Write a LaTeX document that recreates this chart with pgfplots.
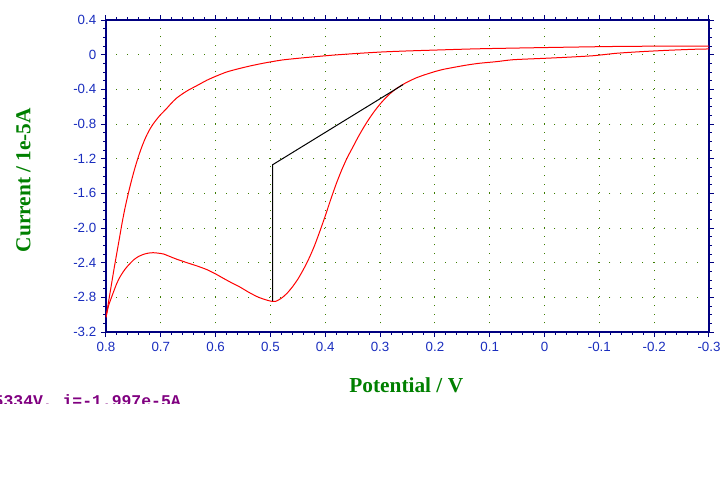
\documentclass[border=0pt]{standalone}
\usepackage{fontspec}
\setmainfont{Liberation Serif}
\newfontfamily\ticksf{Liberation Sans}
\newfontfamily\monob{Liberation Mono}
\usepackage{pgfplots}
\pgfplotsset{compat=1.18}

\definecolor{axisnavy}{RGB}{0,0,128}
\definecolor{ticklbl}{RGB}{25,45,190}
\definecolor{gridgreen}{RGB}{60,125,0}
\definecolor{lblgreen}{RGB}{0,128,0}
\definecolor{readout}{RGB}{128,0,128}

\begin{document}
\begin{tikzpicture}
% page frame, in reference pixels
\begin{scope}[x=0.75pt, y=-0.75pt, shift={(-79.5pt,249pt)}]
  \path[use as bounding box] (0,0) rectangle (727,501);
\end{scope}

\begin{axis}[
    at={(0,0)}, anchor=south west,
    scale only axis,
    width=452.25pt, height=234pt,
    x dir=reverse,
    xmin=-0.3, xmax=0.8, ymin=-3.2, ymax=0.4,
    xtick={-0.3,-0.2,-0.1,0,0.1,0.2,0.3,0.4,0.5,0.6,0.7,0.8},
    xticklabels={-0.3,-0.2,-0.1,0,0.1,0.2,0.3,0.4,0.5,0.6,0.7,0.8},
    ytick={-3.2,-2.8,-2.4,-2.0,-1.6,-1.2,-0.8,-0.4,0,0.4},
    yticklabels={-3.2,-2.8,-2.4,-2.0,-1.6,-1.2,-0.8,-0.4,0,0.4},
    minor x tick num=4, minor y tick num=3,
    tick align=outside,
    xtick pos=both, ytick pos=both,
    major tick length=3.75pt, minor tick length=2pt,
    axis line style={axisnavy, line width=1pt},
    tick style={axisnavy, line width=0.75pt},
    ticklabel style={font=\ticksf\fontsize{10}{12}\selectfont, text=ticklbl},
    xmajorgrids, ymajorgrids,
    x grid style={gridgreen, line width=0.75pt, dash pattern=on 0.75pt off 5.75pt},
    y grid style={gridgreen, line width=0.75pt, dash pattern=on 0.75pt off 7.473pt},
    xlabel={Potential / V},
    ylabel={Current / 1e-5A},
    label style={font=\bfseries\fontsize{16}{19}\selectfont, text=lblgreen},
    xlabel style={at={(axis description cs:0.498,-0.17)}, anchor=center},
    ylabel style={at={(axis description cs:-0.137,0.487)}, anchor=center},
]
% upper branch
\addplot[red, line width=0.75pt, smooth, tension=0.4] coordinates {
 (0.800,-3.03) (0.795,-2.84) (0.790,-2.65) (0.785,-2.46) (0.780,-2.28)
 (0.775,-2.10) (0.770,-1.92) (0.765,-1.76) (0.760,-1.62) (0.755,-1.49)
 (0.750,-1.37) (0.745,-1.26) (0.740,-1.16) (0.735,-1.07) (0.730,-0.99)
 (0.725,-0.92) (0.720,-0.86) (0.714,-0.80) (0.708,-0.75) (0.7015,-0.70)
 (0.690,-0.625) (0.680,-0.555) (0.671,-0.50) (0.660,-0.45) (0.650,-0.41)
 (0.635,-0.36) (0.616,-0.295) (0.600,-0.25) (0.580,-0.20) (0.560,-0.165)
 (0.537,-0.13) (0.510,-0.095) (0.477,-0.06) (0.430,-0.03) (0.385,-0.005)
 (0.340,0.015) (0.294,0.032) (0.250,0.043) (0.200,0.053) (0.120,0.068)
 (0.000,0.082) (-0.120,0.094) (-0.200,0.098) (-0.300,0.100)
};
% lower branch
\addplot[red, line width=0.75pt, smooth, tension=0.4] coordinates {
 (0.800,-3.03) (0.795,-2.89) (0.787,-2.75) (0.781,-2.65) (0.775,-2.57)
 (0.768,-2.50) (0.762,-2.45) (0.750,-2.37) (0.741,-2.33) (0.732,-2.305)
 (0.723,-2.29) (0.714,-2.285) (0.705,-2.29) (0.695,-2.30) (0.683,-2.33)
 (0.671,-2.36) (0.650,-2.405) (0.633,-2.44) (0.616,-2.48) (0.600,-2.53)
 (0.586,-2.58) (0.570,-2.635) (0.556,-2.68) (0.540,-2.74) (0.525,-2.79)
 (0.515,-2.815) (0.505,-2.835) (0.498,-2.845) (0.490,-2.845) (0.480,-2.81)
 (0.470,-2.755) (0.460,-2.68) (0.450,-2.59) (0.440,-2.48) (0.430,-2.355)
 (0.420,-2.21) (0.410,-2.04) (0.400,-1.86) (0.390,-1.67) (0.380,-1.49)
 (0.370,-1.33) (0.360,-1.19) (0.350,-1.07) (0.340,-0.95) (0.330,-0.84)
 (0.320,-0.74) (0.310,-0.65) (0.300,-0.57) (0.290,-0.50) (0.280,-0.44)
 (0.270,-0.39) (0.260,-0.35) (0.250,-0.315) (0.235,-0.27) (0.220,-0.235)
 (0.200,-0.195) (0.185,-0.17) (0.160,-0.14) (0.142,-0.12) (0.120,-0.10)
 (0.087,-0.08) (0.057,-0.058) (0.000,-0.042) (-0.040,-0.03) (-0.089,-0.012)
 (-0.131,0.016) (-0.174,0.034) (-0.223,0.05) (-0.271,0.062) (-0.300,0.066)
};
% peak baseline
\addplot[black, line width=0.75pt] coordinates {
 (0.258,-0.345) (0.496,-1.27) (0.496,-2.845)
};
\end{axis}

\begin{scope}[x=0.75pt, y=-0.75pt, shift={(-79.5pt,249pt)}]
  \begin{scope}
    \clip (0,0) rectangle (727,403.5);
    \node[anchor=base east, inner sep=0pt, text=readout,
          font=\monob\bfseries\fontsize{12.3}{14}\selectfont]
      at (181,406.5) {E=0.5334V, i=-1.997e-5A};
  \end{scope}
\end{scope}
\end{tikzpicture}
\end{document}
